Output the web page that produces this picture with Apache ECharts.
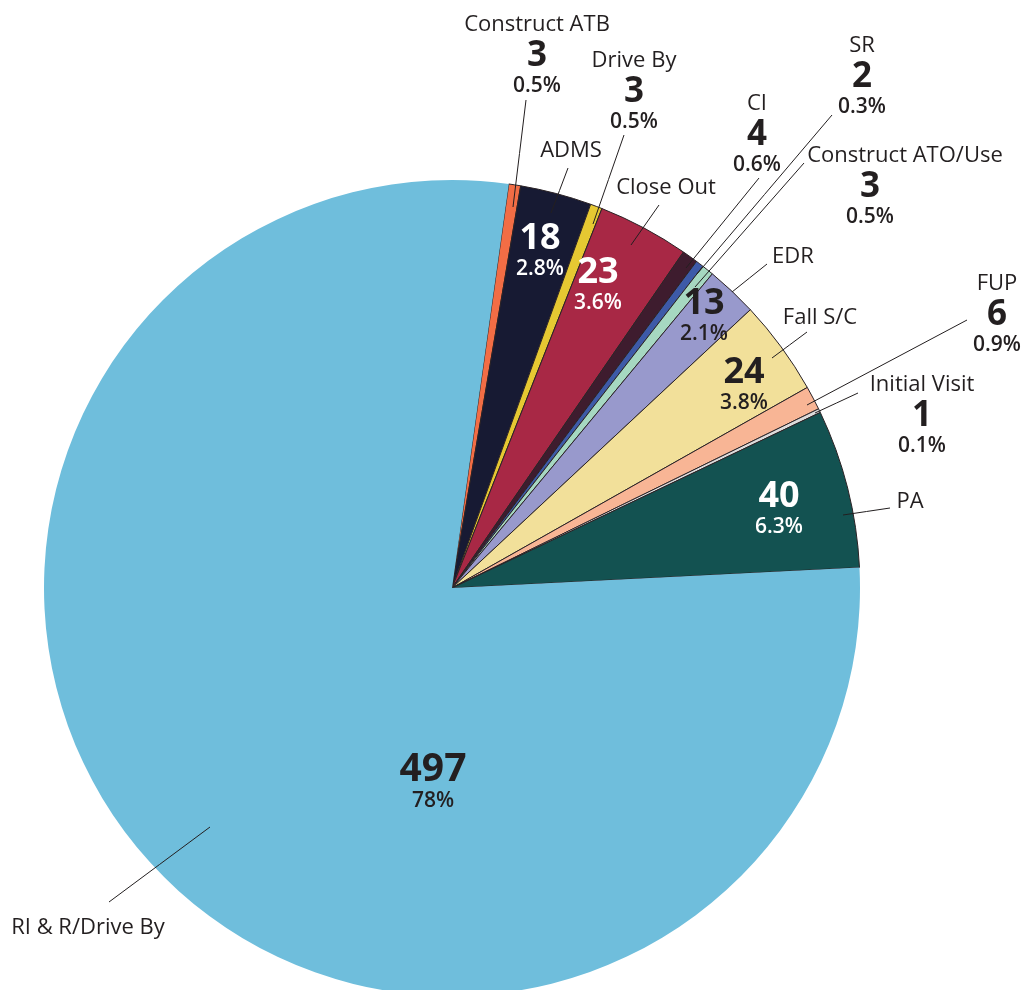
<!DOCTYPE html>
<html>
<head>
<meta charset="utf-8">
<script src="https://cdn.jsdelivr.net/npm/echarts@6/dist/echarts.min.js"></script>
<style>
html,body{margin:0;padding:0;background:#fff;}
#chart{width:1021px;height:990px;}
</style>
</head>
<body>
<div id="chart"></div>
<script>
// ---- data ----
const categories = ['Construct ATB','ADMS','Drive By','Close Out','CI','SR','Construct ATO/Use','EDR','Fall S/C','FUP','Initial Visit','PA','RI & R/Drive By'];
const values     = [3, 18, 3, 23, 4, 2, 3, 13, 24, 6, 1, 40, 497];
const pctLabels  = ['0.5%','2.8%','0.5%','3.6%','0.6%','0.3%','0.5%','2.1%','3.8%','0.9%','0.1%','6.3%','78%'];

// ---- styles ----
const colors = ['#f26d45','#171a33','#e6c832','#a82845','#3e1c2e','#3d5aa8','#a6d8c1','#9899cc','#f2e09a','#f8b595','#dcdcdc','#135251','#6fbedc'];
const insideTextColor = {'ADMS':'#ffffff','Close Out':'#ffffff','PA':'#ffffff','EDR':'#231f20','Fall S/C':'#231f20','RI & R/Drive By':'#231f20'};
const TXT = '#231f20';
const FONT = '"Open Sans", "DejaVu Sans", sans-serif';

// ---- label placement (layout only) ----
const outerLayout = {
  'Construct ATB':     {x:537, y:55,  full:true, line:[[526,100],[513,207]]},
  'Drive By':          {x:634, y:91,  full:true, line:[[624,135],[593,224]]},
  'CI':                {x:757, y:134, full:true, line:[[759,178],[686,268]]},
  'SR':                {x:862, y:76,  full:true, line:[[832,115],[697,274]]},
  'Construct ATO/Use': {x:870, y:186, full:true, shift:true, line:[[804,163],[695,287]]},
  'FUP':               {x:997, y:314, full:true, line:[[967,320],[807,405]]},
  'Initial Visit':     {x:922, y:415, full:true, line:[[858,393],[815,413]]},
  'ADMS':              {x:571, y:151, line:[[568,168],[551,213]]},
  'Close Out':         {x:666, y:188, line:[[659,205],[631,245]]},
  'EDR':               {x:793, y:257, line:[[767,264],[732,292]]},
  'Fall S/C':          {x:820, y:318, line:[[807,332],[772,358]]},
  'PA':                {x:910, y:502, line:[[890,508],[843,515]]},
  'RI & R/Drive By':   {x:88,  y:928, line:[[109,902],[210,827]]}
};
const innerLayout = {
  'ADMS':            {x:540, y:252},
  'Close Out':       {x:598, y:286},
  'EDR':             {x:704, y:317},
  'Fall S/C':        {x:744, y:386},
  'PA':              {x:779, y:510},
  'RI & R/Drive By': {x:433, y:783, big:true}
};

const CENTER = [452, 588];
const RADIUS = 408;
const START = 82;

const chart = echarts.init(document.getElementById('chart'), null, {renderer:'canvas'});

const outerRich = {
  name:  {fontFamily: FONT, fontSize: 22, color: TXT, lineHeight: 28},
  nameS: {fontFamily: FONT, fontSize: 22, color: TXT, lineHeight: 28, padding:[0,0,0,70]},
  num:   {fontFamily: FONT, fontSize: 35, fontWeight: 'bold', color: TXT, lineHeight: 34},
  pct:   {fontFamily: FONT, fontSize: 21, fontWeight: 600, color: TXT, lineHeight: 26}
};

const innerRichFor = (col) => ({
  num:  {fontFamily: FONT, fontSize: 36, fontWeight: 'bold', color: col, lineHeight: 34},
  big:  {fontFamily: FONT, fontSize: 39, fontWeight: 'bold', color: col, lineHeight: 36},
  pct:  {fontFamily: FONT, fontSize: 21, fontWeight: 600, color: col, lineHeight: 26}
});

const pieBase = {
  type: 'pie',
  center: CENTER,
  radius: RADIUS,
  startAngle: START,
  clockwise: true,
  avoidLabelOverlap: false,
  silent: true,
  emphasis: {disabled: true}
};

const option = {
  backgroundColor: '#ffffff',
  animation: false,
  series: [
    // coloured slices
    Object.assign({}, pieBase, {
      z: 1,
      data: categories.map((c, i) => ({
        name: c,
        value: values[i],
        itemStyle: {
          color: colors[i],
          borderColor: '#2b2326',
          borderWidth: c === 'RI & R/Drive By' ? 0 : 1
        }
      })),
      label: {show: false},
      labelLine: {show: false}
    }),
    // outer labels with leader lines (transparent overlay)
    Object.assign({}, pieBase, {
      z: 5,
      data: categories.map((c, i) => ({
        name: c, value: values[i],
        itemStyle: {color: 'rgba(0,0,0,0)', borderWidth: 0}
      })),
      label: {
        show: true,
        position: 'outside',
        formatter: function (p) {
          const L = outerLayout[p.name];
          const nk = L.shift ? 'nameS' : 'name';
          if (L.full) {
            return '{' + nk + '|' + p.name + '}\n{num|' + p.value + '}\n{pct|' + pctLabels[p.dataIndex] + '}';
          }
          return '{' + nk + '|' + p.name + '}';
        },
        rich: outerRich
      },
      labelLine: {
        show: true,
        lineStyle: {color: TXT, width: 1}
      },
      labelLayout: function (params) {
        const L = outerLayout[categories[params.dataIndex]];
        const a = L.line[0], b = L.line[1];
        return {
          x: L.x, y: L.y,
          align: 'center', verticalAlign: 'middle',
          labelLinePoints: [[a[0], a[1]], [(a[0]+b[0])/2, (a[1]+b[1])/2], [b[0], b[1]]]
        };
      }
    }),
    // inner number labels (transparent overlay)
    Object.assign({}, pieBase, {
      z: 6,
      data: categories.map((c, i) => {
        const inner = innerLayout[c];
        const col = insideTextColor[c] || TXT;
        return {
          name: c,
          value: values[i],
          itemStyle: {color: 'rgba(0,0,0,0)', borderWidth: 0},
          label: inner ? {
            show: true,
            position: 'inside',
            formatter: '{' + (inner.big ? 'big' : 'num') + '|' + values[i] + '}\n{pct|' + pctLabels[i] + '}',
            rich: innerRichFor(col)
          } : {show: false},
          labelLine: {show: false}
        };
      }),
      labelLayout: function (params) {
        const L = innerLayout[categories[params.dataIndex]];
        if (!L) return {};
        return {x: L.x, y: L.y, align: 'center', verticalAlign: 'middle'};
      }
    })
  ]
};

chart.setOption(option);
</script>
</body>
</html>
